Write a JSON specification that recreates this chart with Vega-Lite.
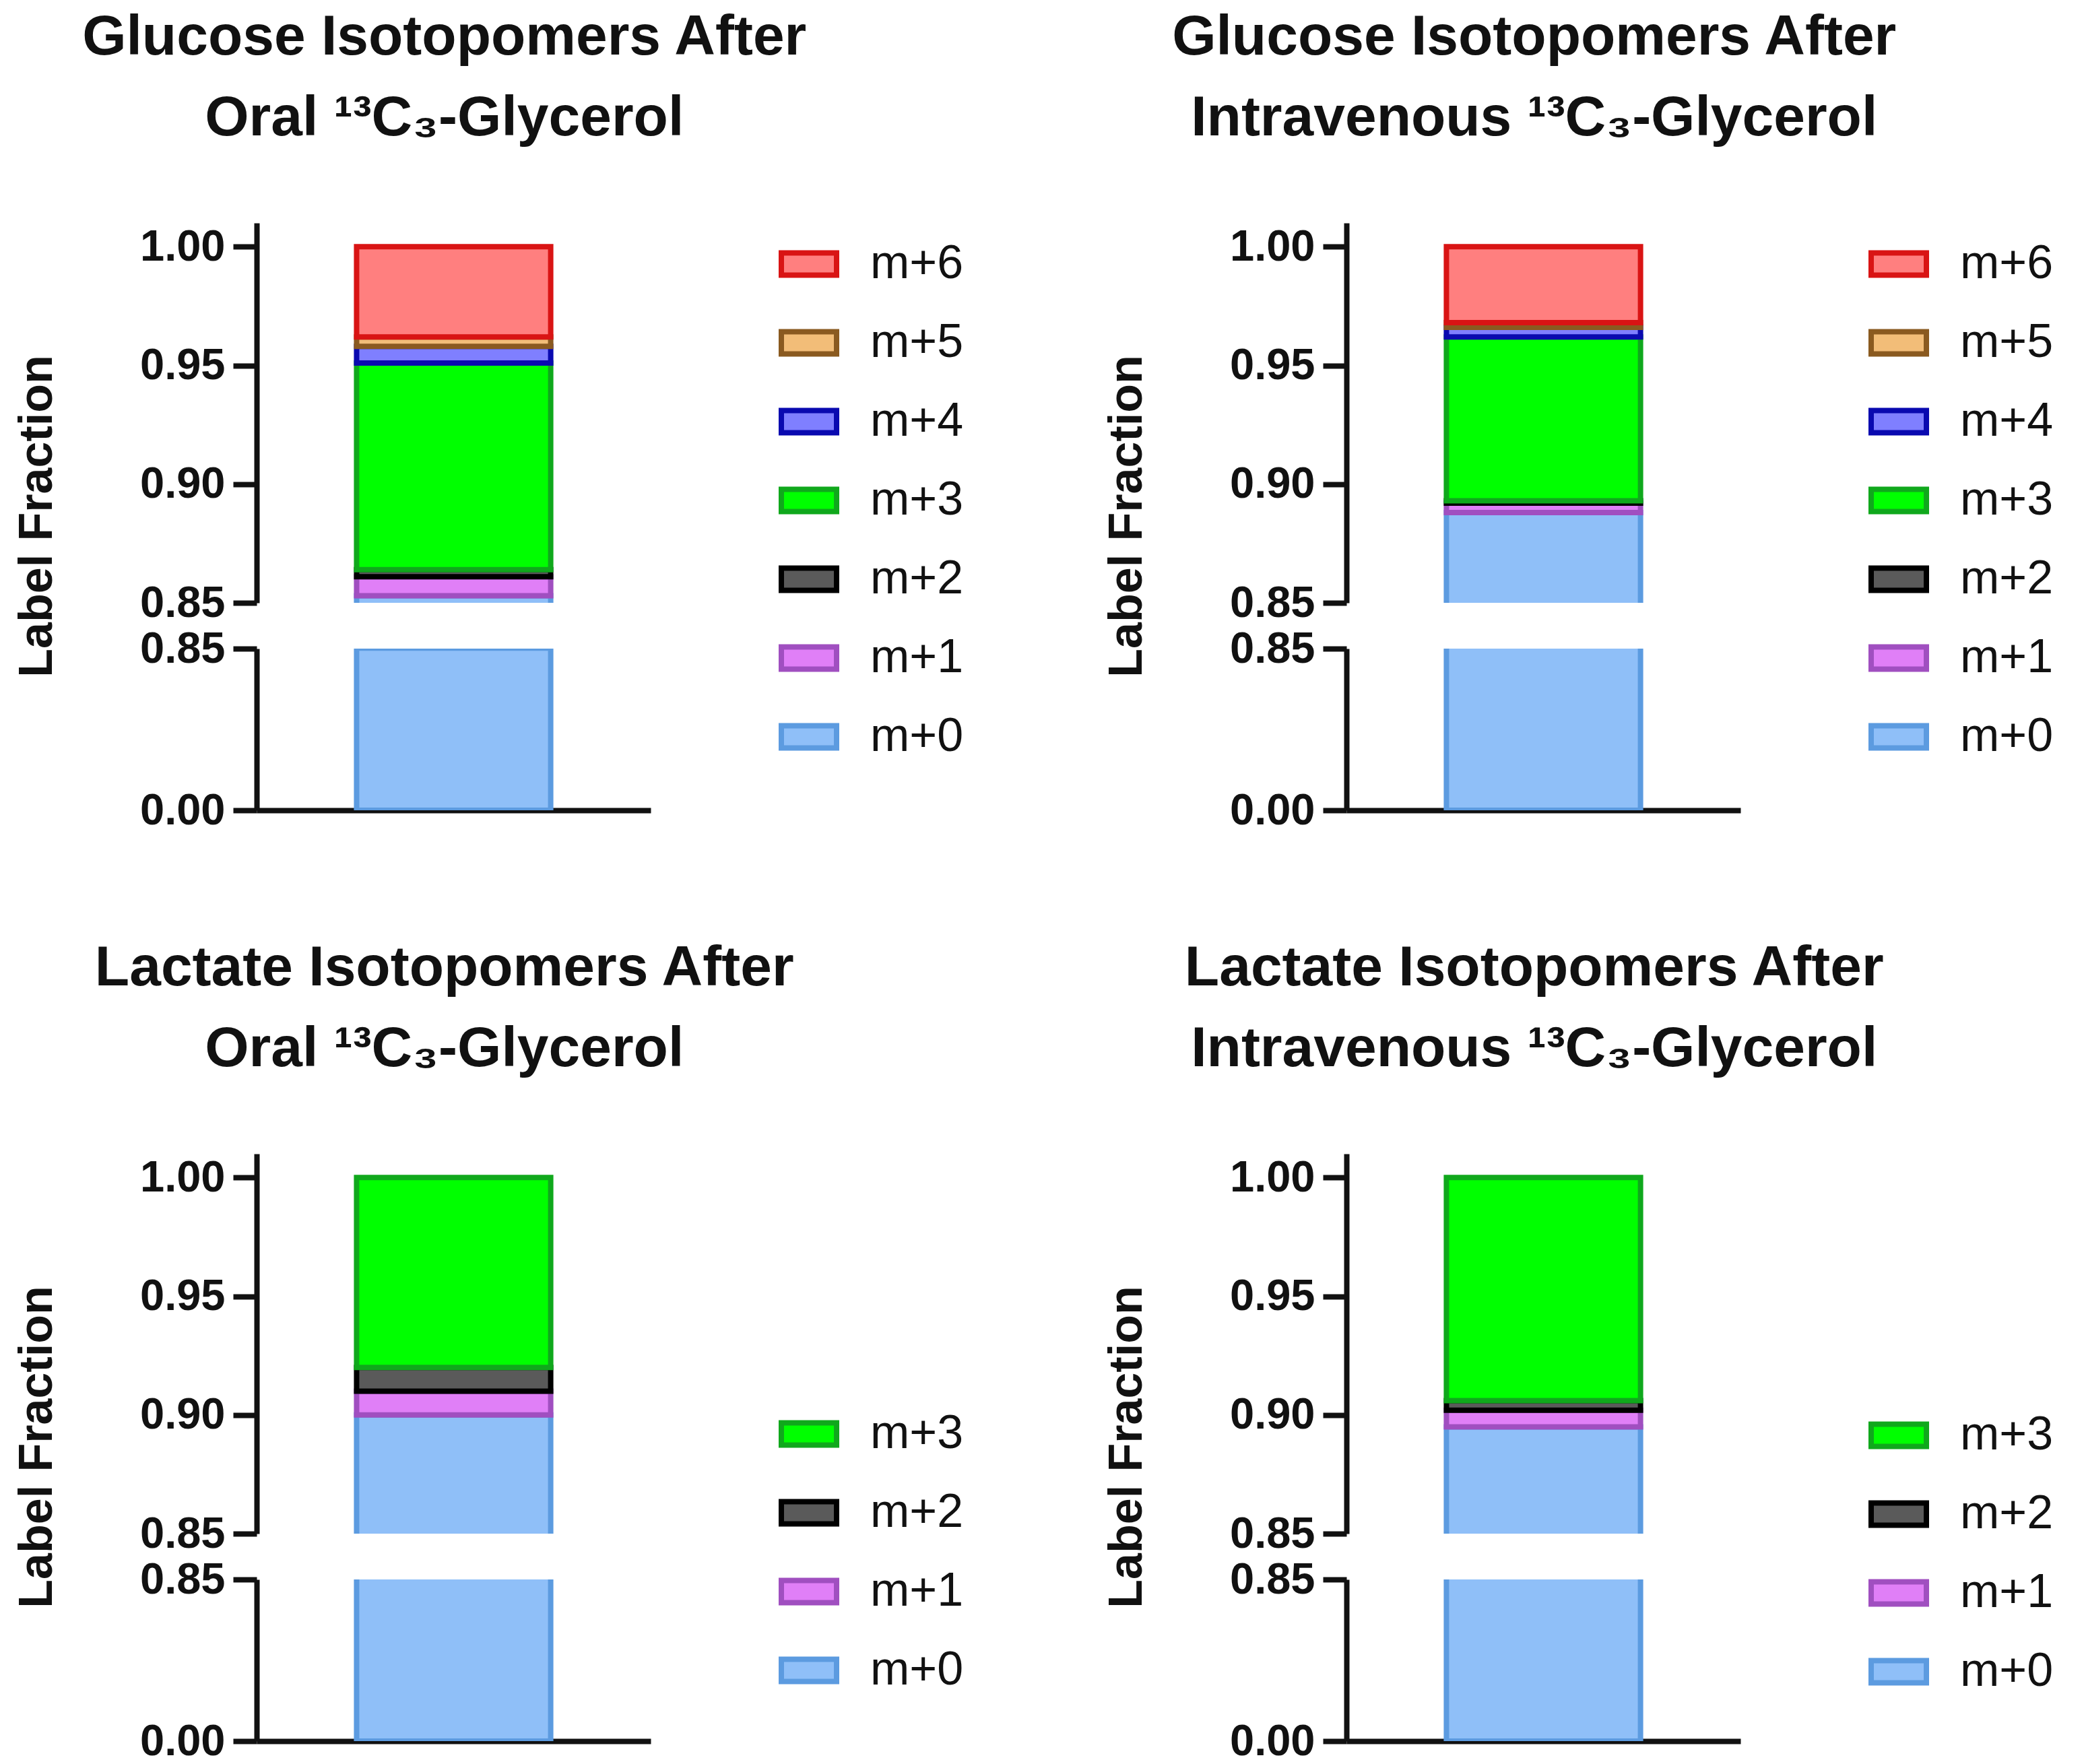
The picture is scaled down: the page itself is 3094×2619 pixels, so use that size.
{
  "$schema": "https://vega.github.io/schema/vega-lite/v6.json",
  "padding": {"left": 20, "top": 14, "right": 10, "bottom": 10},
  "background": "white",
  "config": {
    "font": "Liberation Sans",
    "view": {"stroke": null},
    "axis": {
      "grid": false,
      "domainColor": "#111",
      "domainWidth": 8,
      "tickColor": "#111",
      "tickWidth": 8,
      "tickSize": 35,
      "labelFont": "Liberation Sans",
      "labelFontSize": 65,
      "labelFontWeight": "bold",
      "labelColor": "#111",
      "labelPadding": 12,
      "titleFont": "Liberation Sans",
      "titleFontSize": 70,
      "titleFontWeight": "bold",
      "titleColor": "#111",
      "titlePadding": 116
    },
    "title": {
      "font": "Liberation Sans",
      "fontSize": 84,
      "fontWeight": "bold",
      "color": "#111",
      "lineHeight": 120,
      "anchor": "middle",
      "offset": 112,
      "dx": -66
    },
    "legend": {
      "orient": "none",
      "title": null,
      "symbolType": "M-1,-0.4H1V0.4H-1Z",
      "symbolSize": 6724,
      "symbolStrokeWidth": 8,
      "symbolOpacity": 1,
      "labelFont": "Liberation Sans",
      "labelFontSize": 70,
      "labelColor": "#111",
      "labelOffset": 46,
      "rowPadding": 37,
      "padding": 0
    }
  },
  "datasets": {
    "glucoseOral": [
      {"grp": "1", "iso": "m+0", "idx": 0, "frac": 0.853},
      {"grp": "1", "iso": "m+1", "idx": 1, "frac": 0.008},
      {"grp": "1", "iso": "m+2", "idx": 2, "frac": 0.003},
      {"grp": "1", "iso": "m+3", "idx": 3, "frac": 0.087},
      {"grp": "1", "iso": "m+4", "idx": 4, "frac": 0.007},
      {"grp": "1", "iso": "m+5", "idx": 5, "frac": 0.004},
      {"grp": "1", "iso": "m+6", "idx": 6, "frac": 0.038}
    ],
    "glucoseIV": [
      {"grp": "1", "iso": "m+0", "idx": 0, "frac": 0.888},
      {"grp": "1", "iso": "m+1", "idx": 1, "frac": 0.004},
      {"grp": "1", "iso": "m+2", "idx": 2, "frac": 0.001},
      {"grp": "1", "iso": "m+3", "idx": 3, "frac": 0.069},
      {"grp": "1", "iso": "m+4", "idx": 4, "frac": 0.004},
      {"grp": "1", "iso": "m+5", "idx": 5, "frac": 0.002},
      {"grp": "1", "iso": "m+6", "idx": 6, "frac": 0.032}
    ],
    "lactateOral": [
      {"grp": "1", "iso": "m+0", "idx": 0, "frac": 0.900},
      {"grp": "1", "iso": "m+1", "idx": 1, "frac": 0.010},
      {"grp": "1", "iso": "m+2", "idx": 2, "frac": 0.010},
      {"grp": "1", "iso": "m+3", "idx": 3, "frac": 0.080}
    ],
    "lactateIV": [
      {"grp": "1", "iso": "m+0", "idx": 0, "frac": 0.895},
      {"grp": "1", "iso": "m+1", "idx": 1, "frac": 0.007},
      {"grp": "1", "iso": "m+2", "idx": 2, "frac": 0.004},
      {"grp": "1", "iso": "m+3", "idx": 3, "frac": 0.094}
    ]
  },
  "columns": 2,
  "spacing": {"column": 207, "row": 160},
  "resolve": {"scale": {"fill": "independent", "stroke": "independent"}},
  "concat": [
    {
      "title": {"text": ["Glucose Isotopomers After", "Oral ¹³C₃-Glycerol"]},
      "data": {"name": "glucoseOral"},
      "spacing": 68,
      "bounds": "flush",
      "resolve": {"scale": {"y": "independent"}, "legend": {"fill": "independent", "stroke": "independent"}},
      "vconcat": [
        {
          "width": 585, "height": 564,
          "mark": {"type": "bar", "clip": true, "strokeWidth": 8},
          "encoding": {
            "x": {"field": "grp", "type": "nominal", "scale": {"paddingInner": 0, "paddingOuter": 0.515}, "axis": null},
            "y": {"field": "frac", "type": "quantitative", "stack": "zero", "scale": {"domain": [0.85, 1.01], "nice": false, "zero": false}, "axis": {"values": [0.85, 0.9, 0.95, 1.0], "format": ".2f", "title": "Label Fraction", "titleY": 435}},
            "fill": {"field": "iso", "type": "nominal", "scale": {"domain": ["m+6", "m+5", "m+4", "m+3", "m+2", "m+1", "m+0"], "range": ["#ff7f7f", "#f2bd78", "#7f7fff", "#00ff00", "#5a5a5a", "#e07ff7", "#8fbff8"]}, "legend": {"legendX": 775, "legendY": 16}},
            "stroke": {"field": "iso", "type": "nominal", "scale": {"domain": ["m+6", "m+5", "m+4", "m+3", "m+2", "m+1", "m+0"], "range": ["#d91414", "#8a5a20", "#0a0ab0", "#10a81c", "#000000", "#a04fc0", "#5c9be0"]}, "legend": {"legendX": 775, "legendY": 16}},
            "order": {"field": "idx", "type": "quantitative"}
          }
        },
        {
          "width": 585, "height": 240,
          "transform": [{"filter": "datum.iso === 'm+0'"}],
          "mark": {"type": "bar", "clip": true, "strokeWidth": 8},
          "encoding": {
            "x": {"field": "grp", "type": "nominal", "scale": {"paddingInner": 0, "paddingOuter": 0.515}, "axis": {"labels": false, "ticks": false, "title": null}},
            "y": {"field": "frac", "type": "quantitative", "stack": "zero", "scale": {"domain": [0, 0.85], "nice": false}, "axis": {"values": [0, 0.85], "format": ".2f", "title": null}},
            "fill": {"field": "iso", "type": "nominal", "legend": null},
            "stroke": {"field": "iso", "type": "nominal", "legend": null},
            "order": {"field": "idx", "type": "quantitative"}
          }
        }
      ]
    },
    {
      "title": {"text": ["Glucose Isotopomers After", "Intravenous ¹³C₃-Glycerol"]},
      "data": {"name": "glucoseIV"},
      "spacing": 68,
      "bounds": "flush",
      "resolve": {"scale": {"y": "independent"}, "legend": {"fill": "independent", "stroke": "independent"}},
      "vconcat": [
        {
          "width": 585, "height": 564,
          "mark": {"type": "bar", "clip": true, "strokeWidth": 8},
          "encoding": {
            "x": {"field": "grp", "type": "nominal", "scale": {"paddingInner": 0, "paddingOuter": 0.515}, "axis": null},
            "y": {"field": "frac", "type": "quantitative", "stack": "zero", "scale": {"domain": [0.85, 1.01], "nice": false, "zero": false}, "axis": {"values": [0.85, 0.9, 0.95, 1.0], "format": ".2f", "title": "Label Fraction", "titleY": 435}},
            "fill": {"field": "iso", "type": "nominal", "scale": {"domain": ["m+6", "m+5", "m+4", "m+3", "m+2", "m+1", "m+0"], "range": ["#ff7f7f", "#f2bd78", "#7f7fff", "#00ff00", "#5a5a5a", "#e07ff7", "#8fbff8"]}, "legend": {"legendX": 775, "legendY": 16}},
            "stroke": {"field": "iso", "type": "nominal", "scale": {"domain": ["m+6", "m+5", "m+4", "m+3", "m+2", "m+1", "m+0"], "range": ["#d91414", "#8a5a20", "#0a0ab0", "#10a81c", "#000000", "#a04fc0", "#5c9be0"]}, "legend": {"legendX": 775, "legendY": 16}},
            "order": {"field": "idx", "type": "quantitative"}
          }
        },
        {
          "width": 585, "height": 240,
          "transform": [{"filter": "datum.iso === 'm+0'"}],
          "mark": {"type": "bar", "clip": true, "strokeWidth": 8},
          "encoding": {
            "x": {"field": "grp", "type": "nominal", "scale": {"paddingInner": 0, "paddingOuter": 0.515}, "axis": {"labels": false, "ticks": false, "title": null}},
            "y": {"field": "frac", "type": "quantitative", "stack": "zero", "scale": {"domain": [0, 0.85], "nice": false}, "axis": {"values": [0, 0.85], "format": ".2f", "title": null}},
            "fill": {"field": "iso", "type": "nominal", "legend": null},
            "stroke": {"field": "iso", "type": "nominal", "legend": null},
            "order": {"field": "idx", "type": "quantitative"}
          }
        }
      ]
    },
    {
      "title": {"text": ["Lactate  Isotopomers After", "Oral ¹³C₃-Glycerol"]},
      "data": {"name": "lactateOral"},
      "spacing": 68,
      "bounds": "flush",
      "resolve": {"scale": {"y": "independent"}, "legend": {"fill": "independent", "stroke": "independent"}},
      "vconcat": [
        {
          "width": 585, "height": 564,
          "mark": {"type": "bar", "clip": true, "strokeWidth": 8},
          "encoding": {
            "x": {"field": "grp", "type": "nominal", "scale": {"paddingInner": 0, "paddingOuter": 0.515}, "axis": null},
            "y": {"field": "frac", "type": "quantitative", "stack": "zero", "scale": {"domain": [0.85, 1.01], "nice": false, "zero": false}, "axis": {"values": [0.85, 0.9, 0.95, 1.0], "format": ".2f", "title": "Label Fraction", "titleY": 435}},
            "fill": {"field": "iso", "type": "nominal", "scale": {"domain": ["m+3", "m+2", "m+1", "m+0"], "range": ["#00ff00", "#5a5a5a", "#e07ff7", "#8fbff8"]}, "legend": {"legendX": 775, "legendY": 371}},
            "stroke": {"field": "iso", "type": "nominal", "scale": {"domain": ["m+3", "m+2", "m+1", "m+0"], "range": ["#10a81c", "#000000", "#a04fc0", "#5c9be0"]}, "legend": {"legendX": 775, "legendY": 371}},
            "order": {"field": "idx", "type": "quantitative"}
          }
        },
        {
          "width": 585, "height": 240,
          "transform": [{"filter": "datum.iso === 'm+0'"}],
          "mark": {"type": "bar", "clip": true, "strokeWidth": 8},
          "encoding": {
            "x": {"field": "grp", "type": "nominal", "scale": {"paddingInner": 0, "paddingOuter": 0.515}, "axis": {"labels": false, "ticks": false, "title": null}},
            "y": {"field": "frac", "type": "quantitative", "stack": "zero", "scale": {"domain": [0, 0.85], "nice": false}, "axis": {"values": [0, 0.85], "format": ".2f", "title": null}},
            "fill": {"field": "iso", "type": "nominal", "legend": null},
            "stroke": {"field": "iso", "type": "nominal", "legend": null},
            "order": {"field": "idx", "type": "quantitative"}
          }
        }
      ]
    },
    {
      "title": {"text": ["Lactate Isotopomers After", "Intravenous ¹³C₃-Glycerol"]},
      "data": {"name": "lactateIV"},
      "spacing": 68,
      "bounds": "flush",
      "resolve": {"scale": {"y": "independent"}, "legend": {"fill": "independent", "stroke": "independent"}},
      "vconcat": [
        {
          "width": 585, "height": 564,
          "mark": {"type": "bar", "clip": true, "strokeWidth": 8},
          "encoding": {
            "x": {"field": "grp", "type": "nominal", "scale": {"paddingInner": 0, "paddingOuter": 0.515}, "axis": null},
            "y": {"field": "frac", "type": "quantitative", "stack": "zero", "scale": {"domain": [0.85, 1.01], "nice": false, "zero": false}, "axis": {"values": [0.85, 0.9, 0.95, 1.0], "format": ".2f", "title": "Label Fraction", "titleY": 435}},
            "fill": {"field": "iso", "type": "nominal", "scale": {"domain": ["m+3", "m+2", "m+1", "m+0"], "range": ["#00ff00", "#5a5a5a", "#e07ff7", "#8fbff8"]}, "legend": {"legendX": 775, "legendY": 373}},
            "stroke": {"field": "iso", "type": "nominal", "scale": {"domain": ["m+3", "m+2", "m+1", "m+0"], "range": ["#10a81c", "#000000", "#a04fc0", "#5c9be0"]}, "legend": {"legendX": 775, "legendY": 373}},
            "order": {"field": "idx", "type": "quantitative"}
          }
        },
        {
          "width": 585, "height": 240,
          "transform": [{"filter": "datum.iso === 'm+0'"}],
          "mark": {"type": "bar", "clip": true, "strokeWidth": 8},
          "encoding": {
            "x": {"field": "grp", "type": "nominal", "scale": {"paddingInner": 0, "paddingOuter": 0.515}, "axis": {"labels": false, "ticks": false, "title": null}},
            "y": {"field": "frac", "type": "quantitative", "stack": "zero", "scale": {"domain": [0, 0.85], "nice": false}, "axis": {"values": [0, 0.85], "format": ".2f", "title": null}},
            "fill": {"field": "iso", "type": "nominal", "legend": null},
            "stroke": {"field": "iso", "type": "nominal", "legend": null},
            "order": {"field": "idx", "type": "quantitative"}
          }
        }
      ]
    }
  ]
}
